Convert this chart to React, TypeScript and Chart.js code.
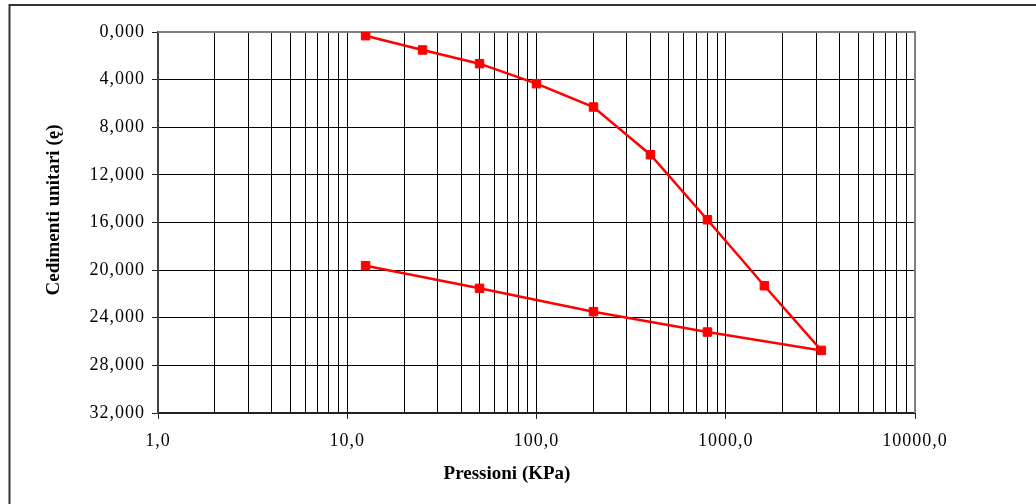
import React, { useEffect, useRef } from "react";
import { Chart, registerables } from "chart.js";

Chart.register(...registerables);

// Data (pressure in kPa, unit settlement)
const loadPressures = [12.5, 25, 50, 100, 200, 400, 800, 1600, 3200];
const loadStrains = [0.31, 1.51, 2.66, 4.34, 6.3, 10.31, 15.77, 21.31, 26.74];
const unloadPressures = [800, 200, 50, 12.5];
const unloadStrains = [25.2, 23.49, 21.53, 19.63];

// Axis ticks
const xDecades = [1, 10, 100, 1000, 10000];
const xMinorSteps = [1, 2, 3, 4, 5, 6, 7, 8, 9];
const yTickValues = [0, 4, 8, 12, 16, 20, 24, 28, 32];

const xTitle = "Pressioni (KPa)";
const yTitle = "Cedimenti unitari (ę)";

const FONT = '"Liberation Serif", "Times New Roman", serif';

const xGridValues: number[] = [];
for (let i = 0; i < xDecades.length - 1; i++) {
  for (const k of xMinorSteps) xGridValues.push(xDecades[i] * k);
}
xGridValues.push(xDecades[xDecades.length - 1]);

const framePlugin = {
  id: "frameAndTitles",
  beforeDraw(chart: any) {
    const ctx = chart.ctx;
    ctx.save();
    ctx.fillStyle = "#ffffff";
    ctx.fillRect(0, 0, chart.width, chart.height);
    ctx.restore();
    // slightly wider tick label text, as in the reference
    (ctx as any).letterSpacing = "1px";
  },
  beforeDatasetsDraw(chart: any) {
    const { ctx, chartArea } = chart;
    (ctx as any).letterSpacing = "0px";
    ctx.save();
    ctx.strokeStyle = "#808080";
    ctx.lineWidth = 2;
    ctx.beginPath();
    ctx.moveTo(chartArea.left, chartArea.top);
    ctx.lineTo(chartArea.right, chartArea.top);
    ctx.lineTo(chartArea.right, chartArea.bottom);
    ctx.stroke();
    ctx.restore();
  },
  afterDraw(chart: any) {
    const ctx = chart.ctx;
    (ctx as any).letterSpacing = "0px";
    ctx.save();
    // outer frame
    ctx.strokeStyle = "#333333";
    ctx.lineWidth = 2;
    ctx.strokeRect(9.5, 5, 1200, 700);
    // titles
    ctx.fillStyle = "#000000";
    ctx.font = `bold 19px ${FONT}`;
    ctx.textAlign = "center";
    ctx.textBaseline = "alphabetic";
    ctx.fillText(xTitle, 507, 479);
    ctx.translate(59, 210);
    ctx.rotate(-Math.PI / 2);
    ctx.fillText(yTitle, 0, 0);
    ctx.restore();
  },
};

export default function App() {
  const canvasRef = useRef<HTMLCanvasElement | null>(null);

  useEffect(() => {
    if (!canvasRef.current) return;
    const points = [
      ...loadPressures.map((p, i) => ({ x: p, y: loadStrains[i] })),
      ...unloadPressures.map((p, i) => ({ x: p, y: unloadStrains[i] })),
    ];
    const chart = new Chart(canvasRef.current, {
      type: "line",
      data: {
        datasets: [
          {
            data: points,
            borderColor: "#ff0000",
            backgroundColor: "#ff0000",
            borderWidth: 2.5,
            pointStyle: "rect",
            pointRadius: 6,
            pointBorderWidth: 1,
            pointBorderColor: "#ff0000",
            pointBackgroundColor: "#ff0000",
            tension: 0,
            fill: false,
          },
        ],
      },
      plugins: [framePlugin],
      options: {
        responsive: false,
        animation: false,
        devicePixelRatio: 1,
        layout: { padding: { left: 0, right: 121, top: 32, bottom: 0 } },
        plugins: {
          legend: { display: false },
          tooltip: { enabled: false },
          title: { display: false },
        },
        scales: {
          x: {
            type: "logarithmic",
            position: "bottom",
            min: 1,
            max: 10000,
            afterBuildTicks: (scale: any) => {
              scale.ticks = xGridValues.map((v) => ({ value: v }));
            },
            afterFit: (scale: any) => {
              scale.height = 91;
            },
            grid: {
              color: "#000000",
              lineWidth: 1,
              tickLength: 6,
              tickColor: (ctx: any) =>
                ctx.tick && xDecades.includes(ctx.tick.value)
                  ? "#222222"
                  : "rgba(0,0,0,0)",
            },
            border: { color: "#222222", width: 2 },
            ticks: {
              autoSkip: false,
              maxRotation: 0,
              minRotation: 0,
              padding: 11,
              color: "#000000",
              font: { family: FONT, size: 18 },
              callback: (value: any) =>
                xDecades.includes(Number(value))
                  ? Number(value).toFixed(1).replace(".", ",")
                  : "",
            },
          },
          y: {
            type: "linear",
            position: "left",
            reverse: true,
            min: 0,
            max: 32,
            afterBuildTicks: (scale: any) => {
              scale.ticks = yTickValues.map((v) => ({ value: v }));
            },
            afterFit: (scale: any) => {
              scale.width = 158;
            },
            grid: {
              color: "#000000",
              lineWidth: 1,
              tickLength: 6,
              tickColor: "#222222",
            },
            border: { color: "#404040", width: 2 },
            ticks: {
              padding: 7,
              color: "#000000",
              font: { family: FONT, size: 18 },
              callback: (value: any) =>
                Number(value).toFixed(3).replace(".", ","),
            },
          },
        },
      },
    });
    return () => chart.destroy();
  }, []);

  return (
    <div style={{ position: "absolute", left: 0, top: 0, width: 1036, height: 504 }}>
      <canvas ref={canvasRef} width={1036} height={504} style={{ display: "block" }} />
    </div>
  );
}
